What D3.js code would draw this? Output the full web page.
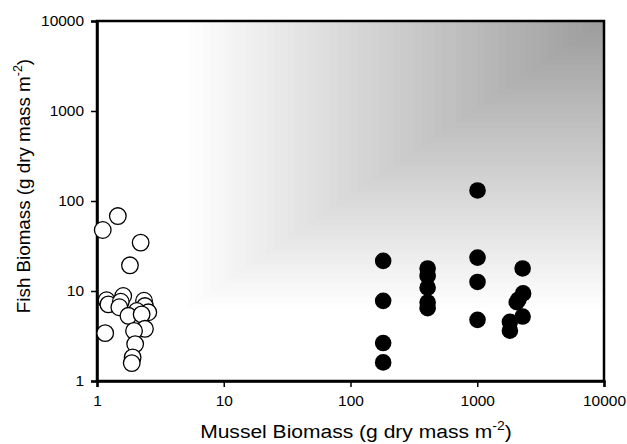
<!DOCTYPE html>
<html>
<head>
<meta charset="utf-8">
<script src="https://cdn.jsdelivr.net/npm/d3@7"></script>
<style>
  body { margin: 0; background: #fff; }
  text { font-family: "Liberation Sans", Arial, sans-serif; fill: #000; }
</style>
</head>
<body>
<div id="chart"></div>
<script>
// tick values on both log axes
var xTicks = [1, 10, 100, 1000, 10000];
var yTicks = [1, 10, 100, 1000, 10000];

// open circles (low mussel biomass sites)
var openX = [1.46, 1.11, 2.21, 1.82, 1.19, 1.23, 1.61, 1.54, 1.50, 2.35, 2.39, 2.06, 2.54, 1.77, 2.25, 1.16, 2.39, 1.96, 2.00, 1.91, 1.88];
var openY = [68, 47.6, 34.5, 19.3, 7.9, 7.1, 8.8, 7.6, 6.6, 7.8, 6.8, 6.0, 5.8, 5.3, 5.5, 3.4, 3.8, 3.6, 2.57, 1.83, 1.58];

// filled circles (high mussel biomass sites)
var fillX = [181, 181, 181, 181, 406, 406, 406, 406, 406, 1005, 1005, 1005, 1005, 2280, 2300, 2110, 2050, 2280, 1810, 1810];
var fillY = [21.6, 7.77, 2.64, 1.61, 17.8, 14.7, 10.9, 7.46, 6.45, 131, 23.5, 12.6, 4.78, 17.8, 9.4, 8.0, 7.5, 5.2, 4.55, 3.62];

var svgWidth = 627, svgHeight = 444;
var margin = { top: 21, right: 23, bottom: 63, left: 97 };
var width = svgWidth - margin.left - margin.right;
var height = svgHeight - margin.top - margin.bottom;
// the original figure is a little wider than tall in its lettering
var stretch = 1.12;

var svg = d3.select("#chart").append("svg")
  .attr("width", svgWidth)
  .attr("height", svgHeight);

var chartGroup = svg.append("g")
  .attr("transform", `translate(${margin.left}, ${margin.top})`);

var xScale = d3.scaleLog().domain([1, 10000]).range([0, width]);
var yScale = d3.scaleLog().domain([1, 10000]).range([height, 0]);

// background shading: white at lower left, darkening towards upper right
var gx0 = xScale(4.7), gy0 = yScale(5.8);
var steps = 60;
for (var i = 0; i < steps; i++) {
  var t = i / steps;
  var gray = Math.round(255 - t * 100);
  var rx = gx0 + t * (width - gx0);
  var ry = gy0 * (1 - t);
  chartGroup.append("rect")
    .attr("x", i === 0 ? 0 : rx)
    .attr("y", 0)
    .attr("width", i === 0 ? width : width - rx)
    .attr("height", i === 0 ? height : ry)
    .attr("fill", d3.rgb(gray, gray, gray));
}

// frame
chartGroup.append("rect")
  .attr("x", 0).attr("y", 0)
  .attr("width", width).attr("height", height)
  .attr("fill", "none")
  .attr("stroke", "#000")
  .attr("stroke-width", 2.5);

var bottomAxis = d3.axisBottom(xScale).tickValues(xTicks).tickFormat(d3.format("d")).tickSizeOuter(0).tickSize(6).tickPadding(9);
var leftAxis = d3.axisLeft(yScale).tickValues(yTicks).tickFormat(d3.format("d")).tickSizeOuter(0).tickSize(6).tickPadding(7);

var xAxisG = chartGroup.append("g")
  .attr("transform", `translate(0, ${height})`)
  .call(bottomAxis);
var yAxisG = chartGroup.append("g").call(leftAxis);

[xAxisG, yAxisG].forEach(function(g) {
  g.attr("font-size", null).attr("font-family", null);
  g.select(".domain").attr("stroke", "#000").attr("stroke-width", 2.5);
  g.selectAll(".tick line").attr("stroke", "#000").attr("stroke-width", 1.5);
  g.selectAll(".tick text")
    .style("font-size", "13.8px")
    .attr("fill", "#000")
    .each(function() {
      var w = this.getComputedTextLength();
      d3.select(this).attr("textLength", w * stretch).attr("lengthAdjust", "spacingAndGlyphs");
    });
});

// open circles
var openData = openX.map(function(x, i) { return { x: x, y: openY[i] }; });
chartGroup.selectAll("circle.open")
  .data(openData)
  .enter()
  .append("circle")
  .attr("class", "open")
  .attr("cx", d => xScale(d.x))
  .attr("cy", d => yScale(d.y))
  .attr("r", 8.3)
  .attr("fill", "#fff")
  .attr("stroke", "#000")
  .attr("stroke-width", 1.3);

// filled circles
var fillData = fillX.map(function(x, i) { return { x: x, y: fillY[i] }; });
chartGroup.selectAll("circle.filled")
  .data(fillData)
  .enter()
  .append("circle")
  .attr("class", "filled")
  .attr("cx", d => xScale(d.x))
  .attr("cy", d => yScale(d.y))
  .attr("r", 8.3)
  .attr("fill", "#000");

// axis titles
var xTitle = svg.append("text")
  .attr("x", 356)
  .attr("y", 438)
  .attr("text-anchor", "middle")
  .style("font-size", "18.8px");
xTitle.append("tspan").text("Mussel Biomass (g dry mass m");
xTitle.append("tspan").attr("dy", -8).style("font-size", "12.5px").text("-2");
xTitle.append("tspan").attr("dy", 8).text(")");
xTitle.attr("textLength", xTitle.node().getComputedTextLength() * stretch)
  .attr("lengthAdjust", "spacingAndGlyphs");

var yTitle = svg.append("text")
  .attr("transform", "translate(30, 186) rotate(-90)")
  .attr("text-anchor", "middle")
  .style("font-size", "18.8px");
yTitle.append("tspan").text("Fish Biomass (g dry mass m");
yTitle.append("tspan").attr("dy", -8).style("font-size", "12.5px").text("-2");
yTitle.append("tspan").attr("dy", 8).text(")");
</script>
</body>
</html>
